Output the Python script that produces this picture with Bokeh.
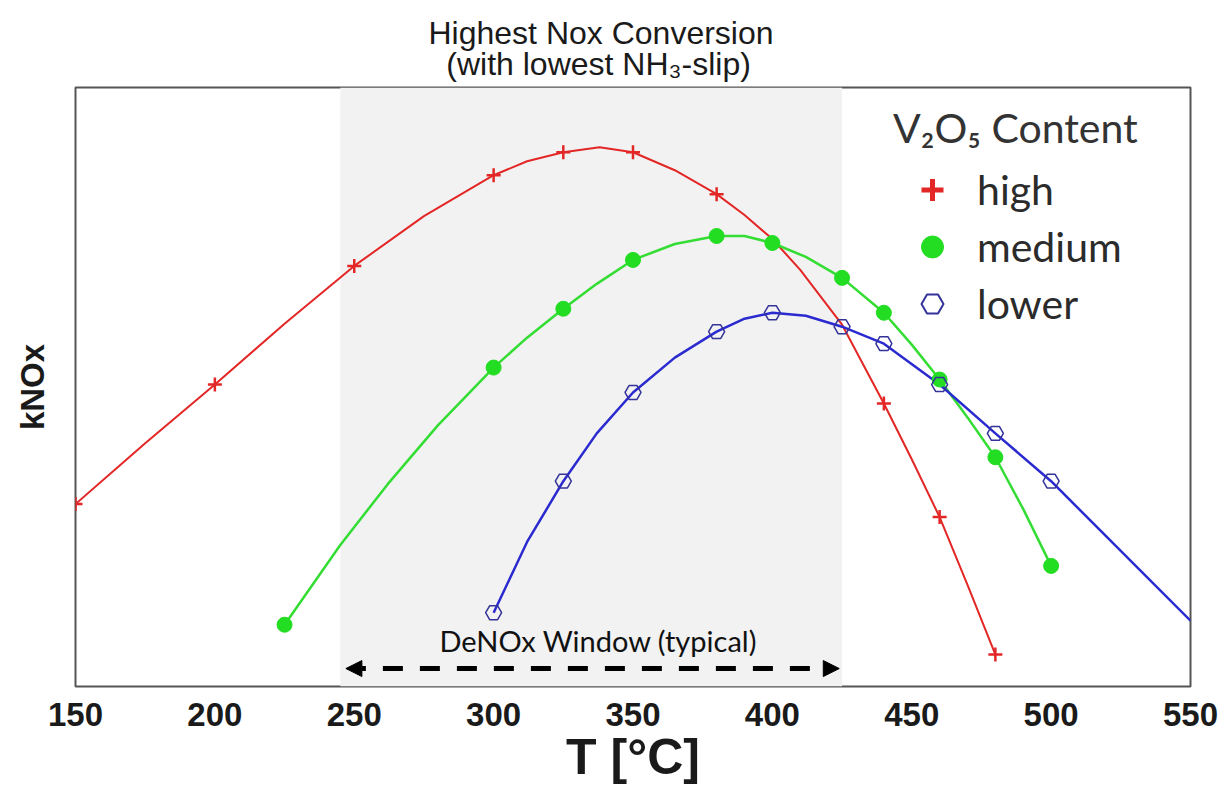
from bokeh.plotting import figure
from bokeh.models import (BoxAnnotation, Arrow, NormalHead, Label, Legend, LegendItem,
                          Range1d, FixedTicker)
from bokeh.embed import file_html
from bokeh.resources import INLINE

# ---- data (kNOx in arbitrary units) ----
t_ticks = [150, 200, 250, 300, 350, 400, 450, 500, 550]

high_t = [150, 200, 250, 300, 325, 350, 380, 440, 460, 480]
high_k = [183, 303, 422, 513, 536, 536, 494, 284, 170, 32]
high_curve_t = [150, 175, 200, 225, 250, 275, 300, 312, 325, 338, 350, 365, 380, 390, 400, 410, 425, 440, 450, 460, 470, 480]
high_curve_k = [183, 244, 303, 364, 422, 472, 513, 527, 536, 541, 536, 518, 494, 473, 449, 418, 363, 284, 228, 170, 102, 32]

medium_t = [225, 300, 325, 350, 380, 400, 425, 440, 460, 480, 500]
medium_k = [62, 320, 379, 428, 452, 445, 410, 375, 308, 230, 121]
medium_curve_t = [225, 245, 262, 280, 300, 312, 325, 337, 350, 365, 380, 390, 400, 412, 425, 440, 450, 460, 470, 480, 490, 500]
medium_curve_k = [62, 142, 203, 262, 320, 350, 379, 404, 428, 444, 452, 452, 445, 431, 410, 375, 343, 308, 270, 230, 178, 121]

lower_t = [300, 325, 350, 380, 400, 425, 440, 460, 480, 500]
lower_k = [74, 206, 295, 356, 375, 361, 344, 303, 254, 206]
lower_curve_t = [300, 312, 325, 337, 350, 365, 380, 390, 400, 412, 425, 440, 460, 480, 500, 550]
lower_curve_k = [74, 145, 206, 254, 295, 330, 356, 369, 375, 372, 361, 344, 303, 254, 206, 66]

series_labels = ["high", "medium", "lower"]
window_t = [245, 425]          # shaded DeNOx window
arrow_t = [247, 424]           # dashed double arrow

RED = "#e32626"
GREEN = "#33dd33"
BLUE = "#2a2ad0"
NAN = float("nan")

p = figure(width=1226, height=787, x_range=Range1d(150, 550), y_range=Range1d(0, 601),
           output_backend="svg", toolbar_location=None,
           min_border_left=75, min_border_right=36, min_border_top=87, min_border_bottom=100)

# two-line title; second line nudged right with no-break spaces so both look centred
p.title.text = "Highest Nox Conversion\n\u00a0\u00a0(with lowest NH\u2083-slip)"
p.title.align = "left"
p.title.offset = 353
p.title.text_font = "Liberation Sans"
p.title.text_font_size = "32px"
p.title.text_font_style = "normal"
p.title.text_color = "#1a1a1a"
p.title.text_line_height = 0.87
p.title.standoff = 10

p.grid.visible = False
p.outline_line_color = "#555555"
p.outline_line_width = 2
p.background_fill_color = "white"
p.border_fill_color = "white"

# x axis
p.xaxis.ticker = FixedTicker(ticks=t_ticks)
p.xaxis.axis_line_color = None
p.xaxis.major_tick_line_color = None
p.xaxis.minor_tick_line_color = None
p.xaxis.major_label_text_font = "Liberation Sans"
p.xaxis.major_label_text_font_style = "bold"
p.xaxis.major_label_text_font_size = "33px"
p.xaxis.major_label_text_color = "#1a1a1a"
p.xaxis.major_label_standoff = 10
p.xaxis.axis_label = "T [°C]"
p.xaxis.axis_label_text_font = "Liberation Sans"
p.xaxis.axis_label_text_font_style = "bold"
p.xaxis.axis_label_text_font_size = "50px"
p.xaxis.axis_label_text_color = "#1a1a1a"
p.xaxis.axis_label_standoff = 0

# y axis
p.yaxis.ticker = FixedTicker(ticks=[])
p.yaxis.axis_line_color = None
p.yaxis.major_tick_line_color = None
p.yaxis.minor_tick_line_color = None
p.yaxis.axis_label = "kNOx"
p.yaxis.axis_label_text_font = "Liberation Sans"
p.yaxis.axis_label_text_font_style = "bold"
p.yaxis.axis_label_text_font_size = "33px"
p.yaxis.axis_label_text_color = "#1a1a1a"
p.yaxis.axis_label_standoff = 25

# shaded window
p.add_layout(BoxAnnotation(left=window_t[0], right=window_t[1], fill_color="#f2f2f2",
                           fill_alpha=1.0, line_color=None, level="underlay"))

# curves
p.line(high_curve_t, high_curve_k, line_color=RED, line_width=2)
p.line(medium_curve_t, medium_curve_k, line_color=GREEN, line_width=2.5)
p.line(lower_curve_t, lower_curve_k, line_color=BLUE, line_width=2.5)

# markers
p.scatter(high_t, high_k, marker="cross", size=14, line_color=RED, line_width=2.5)
p.scatter(medium_t, medium_k, marker="circle", size=15, fill_color="#22dd22", line_color="#22dd22")
p.scatter(lower_t, lower_k, marker="hex", size=16, fill_color=None, line_color="#333399", line_width=1.5)

# legend-only glyphs (nothing drawn in the plot)
lg_high = p.scatter([NAN], [NAN], marker="cross", line_color=RED, line_width=5)
lg_med = p.scatter([NAN], [NAN], marker="circle", fill_color="#22dd22", line_color="#22dd22")
lg_low = p.scatter([NAN], [NAN], marker="hex", fill_color=None, line_color="#333399", line_width=2)

legend = Legend(items=[LegendItem(label=series_labels[0], renderers=[lg_high]),
                       LegendItem(label=series_labels[1], renderers=[lg_med]),
                       LegendItem(label=series_labels[2], renderers=[lg_low])],
                location=(818, 355), title="V\u2082O\u2085 Content",
                title_text_font="Lato", title_text_font_size="41px", title_text_font_style="normal",
                title_text_color="#333333", title_standoff=10,
                label_text_font="Lato", label_text_font_size="41px", label_text_color="#2b2b2b",
                glyph_width=78, glyph_height=55, label_standoff=6, spacing=2, padding=0,
                background_fill_alpha=0, border_line_color=None)
p.add_layout(legend)

# DeNOx window arrow + label
p.add_layout(Arrow(x_start=arrow_t[0], y_start=18, x_end=arrow_t[1], y_end=18,
                   line_width=5, line_dash="20 17", line_color="black",
                   start=NormalHead(size=16, fill_color="black", line_color="black"),
                   end=NormalHead(size=16, fill_color="black", line_color="black")))
p.add_layout(Label(x=337.6, y=46, text="DeNOx Window (typical)", text_align="center",
                   text_baseline="middle", text_font="Lato", text_font_size="29px",
                   text_color="#111111"))

open("out.html", "w").write(file_html(p, INLINE))
